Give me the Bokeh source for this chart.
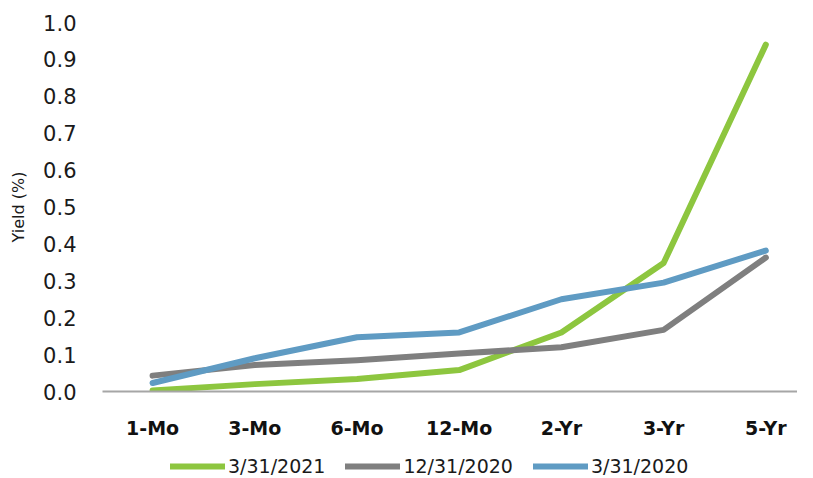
from bokeh.plotting import figure
from bokeh.layouts import column
from bokeh.models import Legend, LegendItem, FixedTicker, Range1d, CustomJSTickFormatter
from bokeh.embed import file_html
from bokeh.resources import INLINE

categories = ["1-Mo", "3-Mo", "6-Mo", "12-Mo", "2-Yr", "3-Yr", "5-Yr"]
y_2021_03 = [0.003, 0.02, 0.034, 0.058, 0.16, 0.348, 0.94]
y_2020_12 = [0.043, 0.072, 0.085, 0.103, 0.12, 0.167, 0.363]
y_2020_03 = [0.023, 0.09, 0.147, 0.16, 0.25, 0.295, 0.382]
series_names = ["3/31/2021", "12/31/2020", "3/31/2020"]
colors = ["#8DC63F", "#7F7F7F", "#5F9BC3"]
y_ticks = [0.0, 0.1, 0.2, 0.3, 0.4, 0.5, 0.6, 0.7, 0.8, 0.9, 1.0]

xs = list(range(len(categories)))
all_series = [y_2021_03, y_2020_12, y_2020_03]

p = figure(x_range=Range1d(-0.49, 6.31), y_range=Range1d(0, 1.0), width=797, height=447,
           output_backend="svg", toolbar_location=None,
           min_border_left=102, min_border_right=0, min_border_top=22, min_border_bottom=56)
p.outline_line_color = None
p.xgrid.grid_line_color = None
p.ygrid.grid_line_color = None

for ys, c in zip(all_series, colors):
    p.line(xs, ys, line_color=c, line_width=6, line_cap="round", line_join="round")

p.yaxis.ticker = FixedTicker(ticks=y_ticks)
p.yaxis.formatter = CustomJSTickFormatter(code="return tick.toFixed(1);")
p.yaxis.axis_line_color = None
p.yaxis.major_tick_line_color = None
p.yaxis.minor_tick_line_color = None
p.yaxis.major_tick_out = 0
p.yaxis.major_label_text_font = "DejaVu Sans"
p.yaxis.major_label_text_font_size = "21px"
p.yaxis.major_label_text_color = "#1a1a1a"
p.yaxis.major_label_standoff = 26
p.yaxis.axis_label = "Yield (%)"
p.yaxis.axis_label_text_font = "DejaVu Sans"
p.yaxis.axis_label_text_font_style = "normal"
p.yaxis.axis_label_text_font_size = "16px"
p.yaxis.axis_label_text_color = "#1a1a1a"
p.yaxis.axis_label_standoff = 12

p.xaxis.ticker = FixedTicker(ticks=xs)
p.xaxis.major_label_overrides = {i: c for i, c in zip(xs, categories)}
p.xaxis.axis_line_color = "#A6A6A6"
p.xaxis.axis_line_width = 2
p.xaxis.major_tick_line_color = None
p.xaxis.minor_tick_line_color = None
p.xaxis.major_tick_out = 0
p.xaxis.minor_tick_out = 0
p.xaxis.major_label_text_font = "DejaVu Sans"
p.xaxis.major_label_text_font_style = "bold"
p.xaxis.major_label_text_font_size = "19px"
p.xaxis.major_label_text_color = "#111111"
p.xaxis.major_label_standoff = 25

# legend strip (single-point lines draw nothing; they only carry the legend style)
lg = figure(width=797, height=30, output_backend="svg", toolbar_location=None,
            x_axis_type=None, y_axis_type=None,
            x_range=Range1d(-0.49, 6.31), y_range=Range1d(0, 1.0),
            min_border_left=0, min_border_right=0, min_border_top=0, min_border_bottom=0)
lg.outline_line_color = None
lg.xgrid.grid_line_color = None
lg.ygrid.grid_line_color = None
leg_renderers = [lg.line(xs[:1], ys[:1], line_color=c, line_width=6, line_cap="round")
                 for ys, c in zip(all_series, colors)]
items = [LegendItem(label=n, renderers=[r]) for n, r in zip(series_names, leg_renderers)]
legend = Legend(items=items, orientation="horizontal", location=(68, 0),
                label_text_font="DejaVu Sans", label_text_font_size="19px",
                label_text_color="#1a1a1a", glyph_width=55, glyph_height=20,
                label_standoff=3, spacing=20, padding=0, margin=0,
                border_line_color=None, background_fill_alpha=0)
lg.add_layout(legend, "center")

layout = column(p, lg, spacing=0)
open("out.html", "w").write(file_html(layout, INLINE))
